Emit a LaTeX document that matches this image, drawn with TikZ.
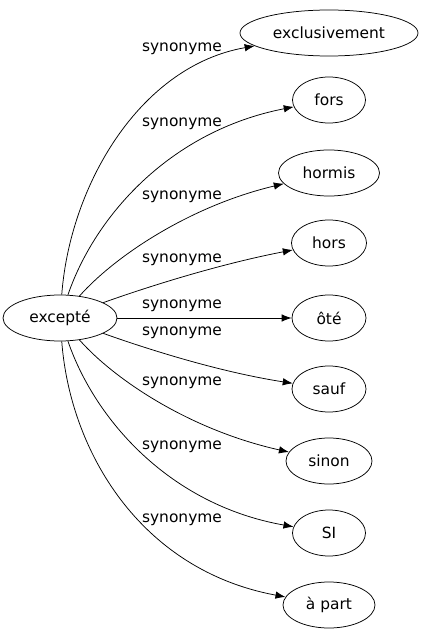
\documentclass[tikz,border=0pt]{standalone}
\usepackage{fontspec}
\setmainfont{DejaVu Sans}
\usetikzlibrary{arrows.meta,shapes.geometric}
\tikzset{
  mot/.style={draw,ellipse,minimum height=46bp,inner sep=2bp,line width=0.75pt,font=\fontsize{15.5}{17}\selectfont},
  lien/.style={-{Latex[length=10bp,width=7.5bp]},line width=0.75pt},
  etiq/.style={font=\fontsize{15.5}{17}\selectfont,inner sep=0pt}
}
\begin{document}
\begin{tikzpicture}[x=1bp,y=-1bp]
		\useasboundingbox (0,0) rectangle (423,635);
		\node[mot,minimum width=114bp] (excepte) at (60,318) {excepté};
		\node[mot,minimum width=178bp] (exclusivement) at (329,33) {exclusivement};
		\node[mot,minimum width=73bp] (fors) at (329,100) {fors};
		\node[mot,minimum width=101bp] (hormis) at (329,173) {hormis};
		\node[mot,minimum width=75bp] (hors) at (329,243) {hors};
		\node[mot,minimum width=74bp] (ote) at (329,318) {ôté};
		\node[mot,minimum width=74bp] (sauf) at (329,389) {sauf};
		\node[mot,minimum width=86bp] (sinon) at (329,461) {sinon};
		\node[mot,minimum width=73bp] (si) at (329,533) {SI};
		\node[mot,minimum width=92bp] (apart) at (329,605) {à part};
		\draw[lien] (excepte) .. controls (70,185) and (140,66) .. (exclusivement);
		\draw[lien] (excepte) .. controls (95,216) and (170,131) .. (fors);
		\draw[lien] (excepte) .. controls (115,256) and (190,206) .. (hormis);
		\draw[lien] (excepte) .. controls (150,286) and (220,264) .. (hors);
		\draw[lien] (excepte) -- (ote);
		\draw[lien] (excepte) .. controls (150,350) and (220,372) .. (sauf);
		\draw[lien] (excepte) .. controls (115,380) and (190,430) .. (sinon);
		\draw[lien] (excepte) .. controls (95,420) and (170,505) .. (si);
		\draw[lien] (excepte) .. controls (70,451) and (140,570) .. (apart);
		\node[etiq] (l1) at (182,49) {synonyme};
		\node[etiq] (l2) at (182,124) {synonyme};
		\node[etiq] (l3) at (182,197) {synonyme};
		\node[etiq] (l4) at (182,260) {synonyme};
		\node[etiq] (l5) at (182,306) {synonyme};
		\node[etiq] (l6) at (182,333) {synonyme};
		\node[etiq] (l7) at (182,383) {synonyme};
		\node[etiq] (l8) at (182,447) {synonyme};
		\node[etiq] (l9) at (182,520) {synonyme};
		\end{tikzpicture}
\end{document}
